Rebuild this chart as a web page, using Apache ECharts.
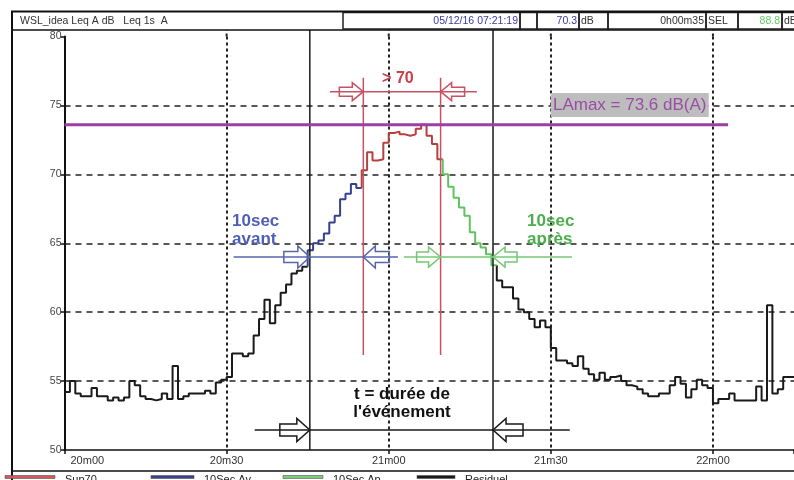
<!DOCTYPE html>
<html><head><meta charset="utf-8">
<script src="https://cdn.jsdelivr.net/npm/echarts@6/dist/echarts.min.js"></script>
<style>html,body{margin:0;padding:0;background:#fff}#c{width:794px;height:480px}</style>
</head><body><div id="c"></div>
<script>
// ---- data: 1 s Leq values (dB(A)) starting at 20m00 ----
const levels = [
54.2,55.0,54.1,53.9,53.9,54.5,53.9,53.9,53.6,53.8,
53.6,53.8,55.0,54.7,53.9,53.7,53.6,53.7,54.1,53.7,
56.1,53.7,53.9,54.1,54.1,54.1,54.3,54.1,54.9,55.1,
55.3,57.0,57.0,56.8,57.0,58.3,59.5,60.9,59.2,60.5,
61.4,62.0,62.8,63.0,63.3,64.5,65.0,65.2,65.7,66.5,
67.0,68.2,68.6,69.3,69.0,70.3,71.6,71.0,71.1,72.3,
73.0,73.1,72.9,72.8,72.9,73.3,73.6,72.8,72.2,71.1,
70.0,69.1,68.3,67.6,67.0,65.8,65.0,64.7,64.2,63.4,
62.3,61.8,61.8,61.0,60.2,60.0,59.5,58.9,59.4,58.9,
57.4,56.5,56.5,56.3,56.1,56.8,55.9,55.5,55.1,55.6,
55.1,55.3,55.4,55.0,54.7,54.6,54.4,54.1,53.9,53.9,
54.1,54.1,54.7,55.3,54.8,53.8,54.4,55.1,54.7,54.5,
53.4,53.7,53.7,54.1,53.6,53.6,53.6,53.6,54.6,53.6,
60.5,54.1,54.4,55.3,55.3];
const residualBefore = [0, 44];
const avantRange = [45, 54];
const sup70Range = [55, 69];
const apresRange = [70, 79];
const residualAfter = [80, 134];
const seriesNames = ['Sup70', '10Sec Av', '10Sec Ap', 'Residuel'];
const xTickLabels = ['20m00', '20m30', '21m00', '21m30', '22m00'];
const headerTexts = ['WSL_idea Leq A dB   Leq 1s  A', '05/12/16 07:21:19', '', '70.3', 'dB', '0h00m35', 'SEL', '88.8', 'dB'];

// annotation values (time in s, level in dB)
const lamax = 73.6;
const lamaxEndTime = 122.8;
const eventBounds = [45.4, 79.3];
const sup70Bounds = [55.3, 69.6];
const sup70LineLevels = [56.9, 77.0];
const sup70ArrowLevel = 76.0;
const sup70ArrowSpan = [49.1, 76.3];
const tenSecLevel = 64.0;
const avantSpan = [31.3, 61.7];
const apresSpan = [62.8, 93.9];
const eventArrowLevel = 51.45;
const eventArrowSpan = [35.2, 93.5];
const headerLevel = 80.47;
const gridTimes = [30, 60, 90, 120];

const C = {
  black: '#1a1a1a', blue: '#34418f', red: '#b5403f', green: '#5fc45f',
  redA: '#c65263', blueA: '#5665ad', greenA: '#74c874', purple: '#9b3ea6'
};
const FONT = "'Liberation Sans', Arial, sans-serif";

function seg(r) {
  const a = r[0], b = r[1], d = [];
  if (a > 0) d.push([a, levels[a - 1]]);
  for (let t = a; t <= b; t++) d.push([t, levels[t]]);
  d.push([b + 1, levels[b]]);
  return d;
}

const lineStyles = {
  event: { stroke: C.black, lineWidth: 1.5 },
  sup70: { stroke: C.redA, lineWidth: 1.5 },
  lamax: { stroke: C.purple, lineWidth: 3 },
  avant: { stroke: C.blueA, lineWidth: 1.5 },
  apres: { stroke: C.greenA, lineWidth: 1.5 },
  grid: { stroke: '#222', lineWidth: 2, lineDash: [3, 3] }
};
const annotLines = [
  { p: [eventBounds[0], 50, eventBounds[0], headerLevel], k: 'event' },
  { p: [eventBounds[1], 50, eventBounds[1], headerLevel], k: 'event' },
  { p: [eventArrowSpan[0], eventArrowLevel, eventArrowSpan[1], eventArrowLevel], k: 'event' },
  { p: [sup70Bounds[0], sup70LineLevels[0], sup70Bounds[0], sup70LineLevels[1]], k: 'sup70' },
  { p: [sup70Bounds[1], sup70LineLevels[0], sup70Bounds[1], sup70LineLevels[1]], k: 'sup70' },
  { p: [sup70ArrowSpan[0], sup70ArrowLevel, sup70ArrowSpan[1], sup70ArrowLevel], k: 'sup70' },
  { p: [0, lamax, lamaxEndTime, lamax], k: 'lamax' },
  { p: [avantSpan[0], tenSecLevel, avantSpan[1], tenSecLevel], k: 'avant' },
  { p: [apresSpan[0], tenSecLevel, apresSpan[1], tenSecLevel], k: 'apres' }
].concat(gridTimes.map(t => ({ p: [t, 80, t, headerLevel], k: 'grid' })));

const arrowSizes = {
  sup70: { len: 24, head: 11, bh: 4.5, hh: 9, stroke: C.redA },
  avant: { len: 26, head: 12, bh: 5.5, hh: 11, stroke: C.blueA },
  apres: { len: 24, head: 12, bh: 5, hh: 10, stroke: C.greenA },
  event: { len: 30, head: 13, bh: 6, hh: 11.5, stroke: C.black }
};
const arrows = [
  { t: sup70Bounds[0], v: sup70ArrowLevel, dir: 1, k: 'sup70' },
  { t: sup70Bounds[1], v: sup70ArrowLevel, dir: -1, k: 'sup70' },
  { t: eventBounds[0], v: tenSecLevel, dir: 1, k: 'avant' },
  { t: sup70Bounds[0], v: tenSecLevel, dir: -1, k: 'avant' },
  { t: sup70Bounds[1], v: tenSecLevel, dir: 1, k: 'apres' },
  { t: eventBounds[1], v: tenSecLevel, dir: -1, k: 'apres' },
  { t: eventBounds[0], v: eventArrowLevel, dir: 1, k: 'event' },
  { t: eventBounds[1], v: eventArrowLevel, dir: -1, k: 'event' }
];

const labels = [
  { t: 61.7, v: 76.92, text: '> 70', k: 'sup70' },
  { t: 31.0, v: 65.96, text: '10sec\navant', k: 'avant' },
  { t: 85.6, v: 65.96, text: '10sec\naprès', k: 'apres' },
  { t: 62.45, v: 53.41, text: "t = durée de\nl'événement", k: 'event' },
  { t: 104.6, v: 75.03, text: 'LAmax = 73.6 dB(A)', k: 'lamax' }
];
const labelStyles = {
  sup70: { fill: '#c8404a', font: 'bold 16px ' + FONT, align: 'center', lh: 18 },
  avant: { fill: '#4f5fb5', font: 'bold 17px ' + FONT, align: 'left', lh: 18 },
  apres: { fill: '#4cae4c', font: 'bold 17px ' + FONT, align: 'left', lh: 18 },
  event: { fill: '#111', font: 'bold 17px ' + FONT, align: 'center', lh: 18 },
  lamax: { fill: '#9a4ea4', font: '17px ' + FONT, align: 'center', lh: 20, bg: '#bdbdbd', w: 158, h: 24 }
};

function stepSeries(name, data, color, z) {
  return { name, type: 'line', step: 'end', data, symbol: 'none', z,
    lineStyle: { color, width: 2 }, itemStyle: { color }, emphasis: { disabled: true }, animation: false };
}

// header + frame graphics
const cellX = [12, 343, 520, 537, 579, 608, 706, 738, 782, 796];
const cellAlign = ['left', 'right', 'left', 'right', 'left', 'right', 'left', 'right', 'left'];
const cellColor = ['#333', '#3a3aa8', '#333', '#3a3aa8', '#333', '#333', '#333', '#66cc66', '#333'];
const graphics = [];
for (let i = 1; i < cellX.length - 1; i++) {
  graphics.push({ type: 'rect', shape: { x: cellX[i], y: 12.5, width: cellX[i + 1] - cellX[i], height: 16.5 },
    style: { fill: 'none', stroke: '#222', lineWidth: 1.5 }, z: 10 });
}
for (let i = 0; i < headerTexts.length; i++) {
  const al = cellAlign[i];
  const x = al === 'left' ? cellX[i] + (i === 0 ? 8 : 2) : cellX[i + 1] - 2;
  graphics.push({ type: 'text', x: x, y: 21, z: 11,
    style: { text: headerTexts[i], fill: cellColor[i], font: '10.5px ' + FONT, align: al, verticalAlign: 'middle' } });
}
graphics.push({ type: 'line', shape: { x1: 11, y1: 11.5, x2: 794, y2: 11.5 }, style: { stroke: '#111', lineWidth: 2 }, z: 12 });
graphics.push({ type: 'line', shape: { x1: 12, y1: 11, x2: 12, y2: 480 }, style: { stroke: '#111', lineWidth: 2 }, z: 12 });
graphics.push({ type: 'line', shape: { x1: 12, y1: 30, x2: 794, y2: 30 }, style: { stroke: '#111', lineWidth: 1.5 }, z: 12 });
graphics.push({ type: 'line', shape: { x1: 12, y1: 471, x2: 794, y2: 471 }, style: { stroke: '#111', lineWidth: 1.5 }, z: 12 });

// legend (partly cut by the bottom edge, as in the original)
const legendX = [[5, 55], [151, 194], [283, 323], [417, 455]];
const legendColors = ['#d05a5a', C.blue, '#7ccc7c', C.black];
seriesNames.forEach((n, i) => {
  graphics.push({ type: 'rect', shape: { x: legendX[i][0], y: 475.5, width: legendX[i][1] - legendX[i][0], height: 3 },
    style: { fill: legendColors[i], stroke: '#555', lineWidth: 0.6 }, z: 12 });
  graphics.push({ type: 'text', x: legendX[i][1] + 10, y: 474, z: 12,
    style: { text: n, fill: '#222', font: '11px ' + FONT, align: 'left', verticalAlign: 'top' } });
});

const option = {
  animation: false,
  backgroundColor: '#fff',
  textStyle: { fontFamily: FONT },
  grid: { left: 64.5, right: 0, top: 36.5, bottom: 30, containLabel: false, outerBoundsMode: 'none' },
  xAxis: {
    type: 'value', min: 0, max: 135, interval: 30,
    axisLine: { show: true, onZero: false, lineStyle: { color: '#111', width: 1.5 } },
    axisTick: { show: true, length: 4, lineStyle: { color: '#111', width: 1.5 } },
    axisLabel: { color: '#333', fontSize: 11, margin: 5, alignMinLabel: 'left',
      formatter: v => (v % 30 === 0 && xTickLabels[v / 30] !== undefined) ? (v === 0 ? '{m|' + xTickLabels[0] + '}' : xTickLabels[v / 30]) : '',
      rich: { m: { padding: [0, 0, 0, 6], fontSize: 11, color: '#333' } } },
    splitLine: { show: true, showMinLine: false, showMaxLine: false, lineStyle: { color: '#222', width: 2, type: [3, 3] } }
  },
  yAxis: {
    type: 'value', min: 50, max: 80, interval: 5,
    axisLine: { show: true, lineStyle: { color: '#111', width: 2 } },
    axisTick: { show: true, length: 4, lineStyle: { color: '#111', width: 1.5 } },
    axisLabel: { color: '#444', fontSize: 10.5, margin: 3 },
    splitLine: { show: true, showMinLine: false, showMaxLine: false, lineStyle: { color: '#222', width: 1.5, type: [6, 5] } }
  },
  graphic: graphics,
  series: [
    stepSeries(seriesNames[3], seg(residualBefore), C.black, 3),
    stepSeries(seriesNames[3], seg(residualAfter), C.black, 3),
    stepSeries(seriesNames[1], seg(avantRange), C.blue, 4),
    stepSeries(seriesNames[0], seg(sup70Range), C.red, 4),
    stepSeries(seriesNames[2], seg(apresRange), C.green, 4),
    { type: 'custom', name: 'annotLines', clip: false, z: 5, silent: true,
      data: annotLines.map(d => d.p),
      renderItem: (params, api) => {
        const a = api.coord([api.value(0), api.value(1)]);
        const b = api.coord([api.value(2), api.value(3)]);
        return { type: 'line', shape: { x1: a[0], y1: a[1], x2: b[0], y2: b[1] },
          style: Object.assign({}, lineStyles[annotLines[params.dataIndex].k]) };
      } },
    { type: 'custom', name: 'arrows', clip: false, z: 6, silent: true,
      data: arrows.map(d => [d.t, d.v]),
      renderItem: (params, api) => {
        const ar = arrows[params.dataIndex], s = arrowSizes[ar.k];
        const p = api.coord([api.value(0), api.value(1)]);
        const tx = p[0], ty = p[1], dir = ar.dir;
        const b = tx - dir * s.len, h = tx - dir * s.head;
        return { type: 'polygon',
          shape: { points: [[b, ty - s.bh], [h, ty - s.bh], [h, ty - s.hh], [tx, ty], [h, ty + s.hh], [h, ty + s.bh], [b, ty + s.bh]] },
          style: { fill: 'rgba(255,255,255,0)', stroke: s.stroke, lineWidth: 1.5 } };
      } },
    { type: 'custom', name: 'labels', clip: false, z: 7, silent: true,
      data: labels.map(d => [d.t, d.v]),
      renderItem: (params, api) => {
        const lb = labels[params.dataIndex], s = labelStyles[lb.k];
        const p = api.coord([api.value(0), api.value(1)]);
        const children = [];
        if (s.bg) children.push({ type: 'rect', shape: { x: p[0] - s.w / 2, y: p[1] - s.h / 2, width: s.w, height: s.h }, style: { fill: s.bg } });
        children.push({ type: 'text', x: p[0], y: p[1],
          style: { text: lb.text, fill: s.fill, font: s.font, align: s.align, verticalAlign: 'middle', lineHeight: s.lh } });
        return { type: 'group', children };
      } }
  ]
};
const chart = echarts.init(document.getElementById('c'), null, { renderer: 'canvas' });
chart.setOption(option);
</script></body></html>
